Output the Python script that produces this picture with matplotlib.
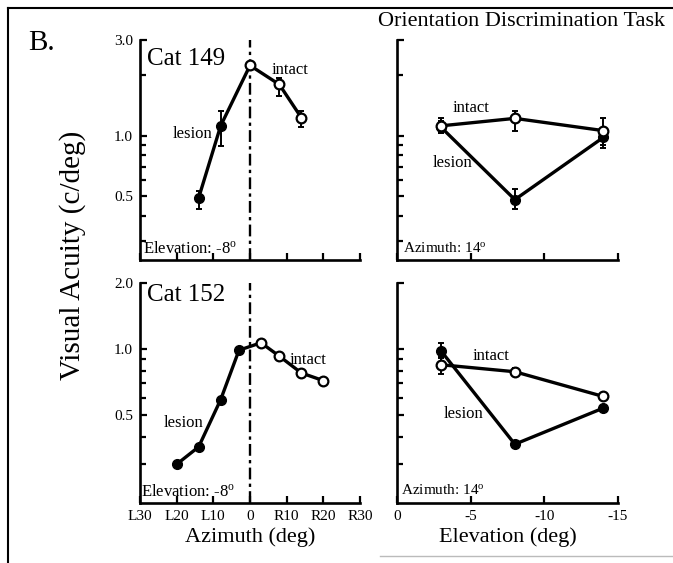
import matplotlib
matplotlib.use("Agg")
import matplotlib.pyplot as plt
from matplotlib.ticker import NullFormatter, FixedLocator
from matplotlib.lines import Line2D
import numpy as np

plt.rcParams['font.family'] = ['Liberation Serif', 'DejaVu Serif']
plt.rcParams['mathtext.fontset'] = 'custom'
plt.rcParams['mathtext.rm'] = 'Liberation Serif'
plt.rcParams['mathtext.it'] = 'Liberation Serif:italic'

# ---------------- data ----------------
# Cat 149, azimuth (elevation -8 deg)
c149_az_lesion_x = [-14, -8, 0]
c149_az_lesion_y = [0.49, 1.12, 2.24]
c149_az_lesion_lo = [0.43, 0.89, 2.24]
c149_az_lesion_hi = [0.53, 1.33, 2.24]
c149_az_intact_x = [0, 8, 14]
c149_az_intact_y = [2.24, 1.80, 1.23]
c149_az_intact_lo = [2.24, 1.58, 1.10]
c149_az_intact_hi = [2.24, 1.95, 1.33]

# Cat 152, azimuth (elevation -8 deg)
c152_az_lesion_x = [-20, -14, -8, -3]
c152_az_lesion_y = [0.30, 0.36, 0.59, 0.99]
c152_az_intact_x = [3, 8, 14, 20]
c152_az_intact_y = [1.07, 0.93, 0.78, 0.72]

# Elevation (azimuth 14 deg)
elev_x = [-3, -8, -14]
c149_el_intact_y = [1.12, 1.22, 1.06]
c149_el_intact_lo = [1.03, 1.06, 0.87]
c149_el_intact_hi = [1.23, 1.33, 1.23]
c149_el_lesion_y = [1.10, 0.48, 0.98]
c149_el_lesion_lo = [1.03, 0.43, 0.90]
c149_el_lesion_hi = [1.18, 0.54, 1.08]

c152_el_intact_y = [0.85, 0.79, 0.61]
c152_el_intact_lo = [0.77, 0.76, 0.60]
c152_el_intact_hi = [0.91, 0.82, 0.62]
c152_el_lesion_y = [0.98, 0.37, 0.54]
c152_el_lesion_lo = [0.92, 0.37, 0.54]
c152_el_lesion_hi = [1.07, 0.37, 0.54]

az_ticks = [-30, -20, -10, 0, 10, 20, 30]
az_ticklabels = ['L30', 'L20', 'L10', '0', 'R10', 'R20', 'R30']
el_ticks = [0, -5, -10, -15]
el_ticklabels = ['0', '-5', '-10', '-15']

top_major = [0.5, 1.0, 3.0]
top_major_labels = ['0.5', '1.0', '3.0']
bot_major = [0.5, 1.0, 2.0]
bot_major_labels = ['0.5', '1.0', '2.0']
top_minor = [0.3, 0.4, 0.6, 0.7, 0.8, 0.9, 2.0]
bot_minor = [0.3, 0.4, 0.6, 0.7, 0.8, 0.9]

# ---------------- figure ----------------
W, H = 673, 563
fig = plt.figure(figsize=(W / 100, H / 100), dpi=100)


def rect(l, t, r, b):
    return [l / W, 1 - b / H, (r - l) / W, (b - t) / H]


ax_tl = fig.add_axes(rect(140, 40, 360, 260))
ax_tr = fig.add_axes(rect(397, 40, 618, 260))
ax_bl = fig.add_axes(rect(140, 283, 360, 503))
ax_br = fig.add_axes(rect(397, 283, 618, 503))

LW = 2.4
MS = 7
TXT = '#111111'


def style(ax, ylim, major, major_labels, minor, show_ylabels, xt, xtl, xlim, show_xlabels):
    ax.set_yscale('log')
    ax.set_ylim(*ylim)
    ax.set_xlim(*xlim)
    for s in ['top', 'right']:
        ax.spines[s].set_visible(False)
    for s in ['left', 'bottom']:
        ax.spines[s].set_linewidth(1.9)
    ax.yaxis.set_major_locator(FixedLocator(major))
    ax.yaxis.set_minor_locator(FixedLocator(minor))
    ax.yaxis.set_minor_formatter(NullFormatter())
    if show_ylabels:
        ax.set_yticklabels(major_labels)
    else:
        ax.set_yticklabels([])
    ax.set_xticks(xt)
    if show_xlabels:
        ax.set_xticklabels(xtl)
    else:
        ax.set_xticklabels([])
    ax.tick_params(axis='both', which='both', direction='in', width=1.6, labelsize=11, pad=5)
    ax.tick_params(axis='both', which='major', length=5)
    ax.tick_params(axis='both', which='minor', length=4)
    ax.patch.set_alpha(0)


def errs(y, lo, hi):
    y = np.asarray(y)
    return [y - np.asarray(lo), np.asarray(hi) - y]


ekw = dict(fmt='none', ecolor='k', elinewidth=1.4, capsize=2.5, capthick=1.4, zorder=2)

# ---- top left: Cat 149 azimuth ----
ax = ax_tl
ax.axvline(0, color='k', lw=1.7, ls=(0, (5, 1.8, 1.4, 1.8)), zorder=1)
ax.errorbar(c149_az_lesion_x, c149_az_lesion_y,
            yerr=errs(c149_az_lesion_y, c149_az_lesion_lo, c149_az_lesion_hi), **ekw)
ax.errorbar(c149_az_intact_x, c149_az_intact_y,
            yerr=errs(c149_az_intact_y, c149_az_intact_lo, c149_az_intact_hi), **ekw)
ax.plot(c149_az_lesion_x, c149_az_lesion_y, '-', color='k', lw=LW, zorder=3)
ax.plot(c149_az_intact_x, c149_az_intact_y, '-', color='k', lw=LW, zorder=3)
ax.plot(c149_az_lesion_x[:-1], c149_az_lesion_y[:-1], 'o', color='k', ms=MS, zorder=4)
ax.plot(c149_az_intact_x, c149_az_intact_y, 'o', mfc='white', mec='k', mew=1.6, ms=MS, zorder=5)
style(ax, (0.24, 3.0), top_major, top_major_labels, top_minor, True,
      az_ticks, az_ticklabels, (-30, 30), False)
ax.text(0.03, 0.915, 'Cat 149', transform=ax.transAxes, fontsize=18, va='center', ha='left')
ax.text(0.6, 0.865, 'intact', transform=ax.transAxes, fontsize=12, va='center', ha='left')
ax.text(0.33, 0.575, 'lesion', transform=ax.transAxes, fontsize=12, va='center', ha='right')
ax.text(0.015, 0.05, 'Elevation: -8$^{\\mathrm{o}}$', transform=ax.transAxes, fontsize=12,
        va='center', ha='left')

# ---- top right: Cat 149 elevation ----
ax = ax_tr
ax.errorbar(elev_x, c149_el_lesion_y,
            yerr=errs(c149_el_lesion_y, c149_el_lesion_lo, c149_el_lesion_hi), **ekw)
ax.errorbar(elev_x, c149_el_intact_y,
            yerr=errs(c149_el_intact_y, c149_el_intact_lo, c149_el_intact_hi), **ekw)
ax.plot(elev_x, c149_el_lesion_y, 'o-', color='k', lw=LW, ms=MS, zorder=3)
ax.plot(elev_x, c149_el_intact_y, 'o-', color='k', lw=LW, ms=MS, mfc='white', mec='k', mew=1.6, zorder=4)
style(ax, (0.24, 3.0), top_major, top_major_labels, top_minor, False,
      el_ticks, el_ticklabels, (0, -15), False)
ax.text(0.25, 0.69, 'intact', transform=ax.transAxes, fontsize=12, va='center', ha='left')
ax.text(0.16, 0.44, 'lesion', transform=ax.transAxes, fontsize=12, va='center', ha='left')
ax.text(0.025, 0.055, 'Azimuth: 14$^{\\mathrm{o}}$', transform=ax.transAxes, fontsize=11,
        va='center', ha='left')

# ---- bottom left: Cat 152 azimuth ----
ax = ax_bl
ax.axvline(0, color='k', lw=1.7, ls=(0, (5, 1.8, 1.4, 1.8)), zorder=1)
ax.plot(c152_az_lesion_x + c152_az_intact_x[:1], c152_az_lesion_y + c152_az_intact_y[:1],
        '-', color='k', lw=LW, zorder=3)
ax.plot(c152_az_intact_x, c152_az_intact_y, '-', color='k', lw=LW, zorder=3)
ax.plot(c152_az_lesion_x, c152_az_lesion_y, 'o', color='k', ms=MS, zorder=4)
ax.plot(c152_az_intact_x, c152_az_intact_y, 'o', mfc='white', mec='k', mew=1.6, ms=MS, zorder=5)
style(ax, (0.2, 2.0), bot_major, bot_major_labels, bot_minor, True,
      az_ticks, az_ticklabels, (-30, 30), True)
ax.set_xlabel('Azimuth (deg)', fontsize=16, labelpad=3)
ax.text(0.03, 0.945, 'Cat 152', transform=ax.transAxes, fontsize=18, va='center', ha='left')
ax.text(0.68, 0.65, 'intact', transform=ax.transAxes, fontsize=12, va='center', ha='left')
ax.text(0.29, 0.365, 'lesion', transform=ax.transAxes, fontsize=12, va='center', ha='right')
ax.text(0.005, 0.05, 'Elevation: -8$^{\\mathrm{o}}$', transform=ax.transAxes, fontsize=12,
        va='center', ha='left')

# ---- bottom right: Cat 152 elevation ----
ax = ax_br
ax.errorbar(elev_x, c152_el_lesion_y,
            yerr=errs(c152_el_lesion_y, c152_el_lesion_lo, c152_el_lesion_hi), **ekw)
ax.errorbar(elev_x, c152_el_intact_y,
            yerr=errs(c152_el_intact_y, c152_el_intact_lo, c152_el_intact_hi), **ekw)
ax.plot(elev_x, c152_el_lesion_y, 'o-', color='k', lw=LW, ms=MS, zorder=3)
ax.plot(elev_x, c152_el_intact_y, 'o-', color='k', lw=LW, ms=MS, mfc='white', mec='k', mew=1.6, zorder=4)
style(ax, (0.2, 2.0), bot_major, bot_major_labels, bot_minor, False,
      el_ticks, el_ticklabels, (0, -15), True)
ax.set_xlabel('Elevation (deg)', fontsize=16, labelpad=3)
ax.text(0.34, 0.67, 'intact', transform=ax.transAxes, fontsize=12, va='center', ha='left')
ax.text(0.21, 0.405, 'lesion', transform=ax.transAxes, fontsize=12, va='center', ha='left')
ax.text(0.02, 0.06, 'Azimuth: 14$^{\\mathrm{o}}$', transform=ax.transAxes, fontsize=11,
        va='center', ha='left')

# ---- figure-level text ----
fig.text(28 / W, 1 - 43 / H, 'B.', fontsize=21, ha='left', va='center')
fig.text(522 / W, 1 - 21 / H, 'Orientation Discrimination Task', fontsize=16, ha='center', va='center')
fig.text(73 / W, 1 - 255 / H, 'Visual Acuity (c/deg)', fontsize=21, rotation=90,
         ha='center', va='center')

# border lines of the scanned frame
fig.add_artist(Line2D([8 / W, 1.0], [1 - 8 / H, 1 - 8 / H], color='k', lw=1.5))
fig.add_artist(Line2D([8 / W, 8 / W], [1 - 8 / H, 0.0], color='k', lw=1.5))
fig.add_artist(Line2D([380 / W, 1.0], [1 - 556 / H, 1 - 556 / H], color='#bbbbbb', lw=1.0))

fig.savefig('out.png', dpi=100)
